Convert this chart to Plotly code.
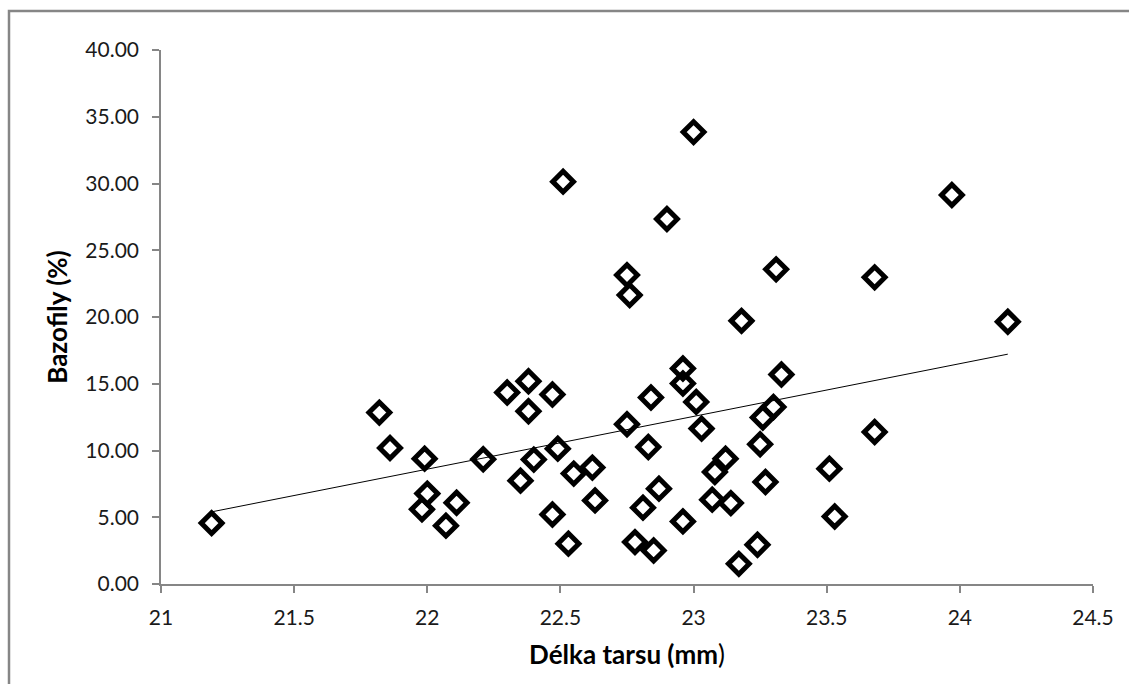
import numpy as np
import plotly.graph_objects as go

# Délka tarsu (mm)
tarsus = [21.19, 21.82, 21.86, 21.99, 22.00, 21.98, 22.11, 22.07, 22.21, 22.30,
          22.38, 22.38, 22.35, 22.40, 22.47, 22.49, 22.55, 22.62, 22.47, 22.53,
          22.63, 22.75, 22.84, 22.83, 22.87, 22.81, 22.78, 22.85, 22.96, 22.96,
          23.01, 23.03, 22.96, 23.12, 23.08, 23.07, 23.14, 23.17, 23.24, 23.33,
          23.30, 23.26, 23.25, 23.27, 23.51, 23.53, 23.00, 22.51, 22.90, 22.75,
          22.76, 23.31, 23.18, 23.68, 24.18, 23.68, 23.97]
# Bazofily (%)
basophils = [4.56, 12.84, 10.19, 9.39, 6.77, 5.59, 6.09, 4.37, 9.34, 14.34,
             15.19, 12.94, 7.74, 9.32, 14.19, 10.14, 8.27, 8.72, 5.21, 3.02,
             6.26, 11.97, 13.97, 10.26, 7.14, 5.72, 3.14, 2.51, 16.14, 15.02,
             13.64, 11.64, 4.69, 9.39, 8.39, 6.32, 6.06, 1.51, 2.94, 15.69,
             13.26, 12.47, 10.47, 7.64, 8.64, 5.06, 33.85, 30.14, 27.34, 23.14,
             21.64, 23.57, 19.71, 22.97, 19.64, 11.39, 29.14]

x_ticks = [21, 21.5, 22, 22.5, 23, 23.5, 24, 24.5]
x_tick_labels = ["21", "21.5", "22", "22.5", "23", "23.5", "24", "24.5"]
y_ticks = [0, 5, 10, 15, 20, 25, 30, 35, 40]
y_tick_labels = ["0.00", "5.00", "10.00", "15.00", "20.00", "25.00", "30.00", "35.00", "40.00"]

# linear trendline
slope, intercept = np.polyfit(tarsus, basophils, 1)
trend_x = [min(tarsus), max(tarsus)]
trend_y = [slope * v + intercept for v in trend_x]

FONT = "Lato"
AXIS_GRAY = "#868686"
TICK_COLOR = "#1a1a1a"

fig = go.Figure()
fig.add_trace(go.Scatter(
    x=trend_x, y=trend_y, mode="lines",
    line=dict(color="black", width=1), hoverinfo="skip", showlegend=False))
fig.add_trace(go.Scatter(
    x=tarsus, y=basophils, mode="markers",
    marker=dict(symbol="diamond-open", size=16, color="black",
                line=dict(color="black", width=5)),
    showlegend=False))

fig.update_layout(
    width=1129, height=684,
    margin=dict(l=161, r=36, t=50, b=100, pad=0),
    paper_bgcolor="white", plot_bgcolor="white",
    font=dict(family=FONT, color=TICK_COLOR),
    xaxis=dict(range=[21, 24.5], tickvals=x_ticks, ticktext=x_tick_labels,
               showgrid=False, zeroline=False, showline=True, linecolor=AXIS_GRAY,
               linewidth=1.5, ticks="outside", ticklen=7, tickcolor=AXIS_GRAY,
               tickwidth=1.5, ticklabelstandoff=7,
               tickfont=dict(size=21, family=FONT, color=TICK_COLOR),
               title=dict(text="<b>Délka tarsu (mm</b>)", font=dict(size=26, family=FONT, color="black"),
                          standoff=18)),
    yaxis=dict(range=[0, 40], tickvals=y_ticks, ticktext=y_tick_labels,
               showgrid=False, zeroline=False, showline=True, linecolor=AXIS_GRAY,
               linewidth=1.5, ticks="outside", ticklen=7, tickcolor=AXIS_GRAY,
               tickwidth=1.5, ticklabelstandoff=9,
               tickfont=dict(size=21, family=FONT, color=TICK_COLOR),
               title=dict(text="<b>Bazofily (%)</b>", font=dict(size=26, family=FONT, color="black"),
                          standoff=10)),
    shapes=[dict(type="rect", xref="paper", yref="paper",
                 x0=(9 - 161) / 932, x1=(1140 - 161) / 932,
                 y0=(583.5 - 700) / 533.5, y1=(583.5 - 11) / 533.5,
                 line=dict(color=AXIS_GRAY, width=2.5), fillcolor="rgba(0,0,0,0)", layer="below")],
)

fig.write_html("out.html")
